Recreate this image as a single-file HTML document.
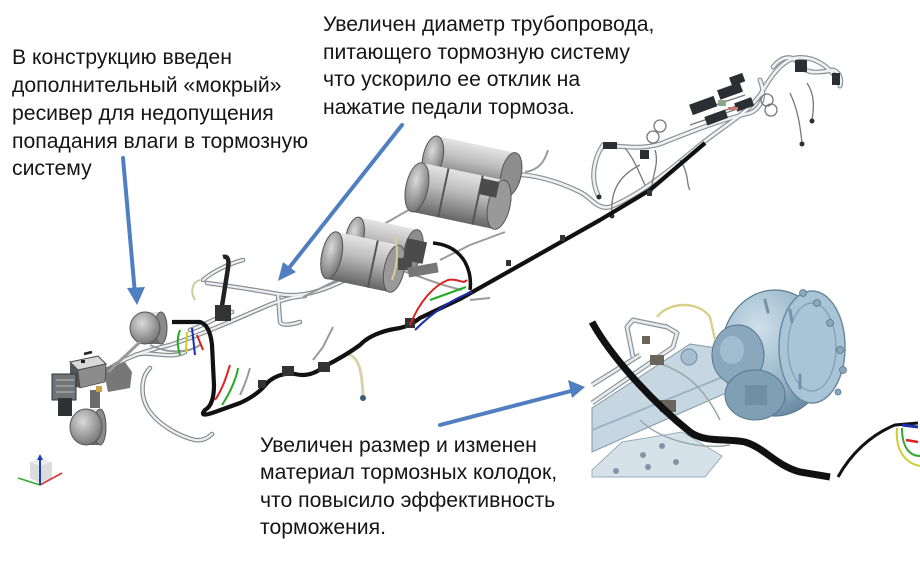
<!DOCTYPE html>
<html><head><meta charset="utf-8">
<style>
html,body{margin:0;padding:0;background:#fff;}
svg{display:block;}
text{font-family:"Liberation Sans","DejaVu Sans",sans-serif;font-size:21.2px;fill:#151515;}
</style></head><body>
<svg width="920" height="577" viewBox="0 0 920 577" xmlns="http://www.w3.org/2000/svg">
<defs>
<linearGradient id="tg" x1="0" y1="0" x2="0" y2="1">
<stop offset="0" stop-color="#e4e4e4"/><stop offset="0.4" stop-color="#bdbdbd"/><stop offset="1" stop-color="#656565"/>
</linearGradient>
<radialGradient id="te" cx="0.4" cy="0.35" r="0.75"><stop offset="0" stop-color="#dadada"/><stop offset="1" stop-color="#6a6a6a"/></radialGradient>
<radialGradient id="dg" cx="0.35" cy="0.3" r="0.8"><stop offset="0" stop-color="#cfe0ea"/><stop offset="0.6" stop-color="#96b4c8"/><stop offset="1" stop-color="#5f8199"/></radialGradient>

<path id="h1" d="M505,175 C530,172 560,182 580,192 C592,198 597,210 610,207 C640,195 670,170 700,145 C725,125 745,115 760,95 C770,78 780,62 795,58 C815,55 830,68 838,80"/>
<path id="h2" d="M603,145 C620,146 640,150 660,144 C690,132 720,120 750,113 C762,108 766,95 760,80"/>
<path id="h3" d="M773,67 C780,58 792,52 800,66 C808,75 822,72 833,70 C840,72 842,80 840,86"/>
<path id="h4" d="M603,145 C594,158 590,178 598,195"/>
<path id="t1" d="M105,372 C120,360 140,352 170,345 C200,335 230,322 262,308 C280,300 292,297 305,296"/>
<path id="t2" d="M150,368 C140,378 140,398 150,412 C160,425 178,436 195,440 C202,441 208,438 212,434"/>
<path id="t3" d="M207,283 C230,286 255,290 278,294 C300,298 320,292 345,280 C360,272 372,262 385,255"/>
<path id="t4" d="M278,294 L280,322 C282,326 290,325 300,322"/>
<path id="t5" d="M203,280 C212,272 228,264 243,260"/>
<path id="t6" d="M190,330 C205,325 215,318 232,312"/>
<path id="t7" d="M135,355 C150,350 170,360 185,352"/>
<path id="i1" d="M592,403 L673,347 L677,333 L667,327 L633,320 L627,327 L633,357"/>
<path id="i2" d="M592,385 L640,355"/>
</defs>

<!-- ===== text ===== -->
<text x="12" y="64">В конструкцию введен</text>
<text x="12" y="92">дополнительный «мокрый»</text>
<text x="12" y="120">ресивер для недопущения</text>
<text x="12" y="148">попадания влаги в тормозную</text>
<text x="12" y="175">систему</text>

<text x="323" y="31">Увеличен диаметр трубопровода,</text>
<text x="323" y="59">питающего тормозную систему</text>
<text x="323" y="86">что ускорило ее отклик на</text>
<text x="323" y="114">нажатие педали тормоза.</text>

<text x="260" y="452">Увеличен размер и изменен</text>
<text x="260" y="479">материал тормозных колодок,</text>
<text x="260" y="507">что повысило эффективность</text>
<text x="260" y="534">торможения.</text>

<!-- ===== right harness (white tubes) ===== -->
<g fill="none" stroke="#8d9296" stroke-width="5" stroke-linecap="round">
<use href="#h1"/><use href="#h2"/><use href="#h3"/><use href="#h4"/>
</g>
<g fill="none" stroke="#eef2f4" stroke-width="2.6" stroke-linecap="round">
<use href="#h1"/><use href="#h2"/><use href="#h3"/><use href="#h4"/>
</g>
<g fill="none" stroke="#777" stroke-width="1.3">
<path d="M790,93 C798,110 800,125 802,143"/>
<path d="M807,83 C815,95 814,108 812,120"/>
<path d="M640,165 C620,175 610,190 612,215"/>
<path d="M680,160 C690,175 686,185 690,190"/>
<path d="M655,150 C660,165 650,180 652,192"/>
<path d="M625,148 C635,160 640,175 645,185"/>
<circle cx="653" cy="137" r="6"/><circle cx="660" cy="126" r="6"/>
<circle cx="767" cy="100" r="6"/><circle cx="771" cy="110" r="6"/>
<path d="M700,110 L745,95 M705,118 L752,100 M690,125 L740,108"/>
</g>
<g fill="#2b2f33">
<rect x="690" y="100" width="26" height="11" transform="rotate(-20 703 105)"/>
<rect x="718" y="86" width="24" height="10" transform="rotate(-20 730 91)"/>
<rect x="705" y="113" width="22" height="9" transform="rotate(-20 716 117)"/>
<rect x="735" y="100" width="18" height="9" transform="rotate(-20 744 104)"/>
<rect x="730" y="75" width="14" height="9" transform="rotate(-20 737 79)"/>
<rect x="795" y="60" width="12" height="12"/>
<rect x="832" y="73" width="8" height="12"/>
<rect x="603" y="142" width="14" height="7"/>
<rect x="640" y="150" width="9" height="9"/>
<circle cx="599" cy="197" r="2.5"/><circle cx="612" cy="216" r="2.5"/><circle cx="802" cy="144" r="2.5"/><circle cx="812" cy="121" r="2.5"/>
</g>
<g fill="#8aa88a"><rect x="718" y="100" width="8" height="6"/></g>
<g fill="#c77"><rect x="728" y="107" width="10" height="3"/></g>

<!-- ===== gray tubes middle / left ===== -->
<g fill="none" stroke="#85898c" stroke-width="4.6" stroke-linecap="round">
<use href="#t1"/><use href="#t2"/><use href="#t3"/><use href="#t4"/><use href="#t5"/><use href="#t6"/><use href="#t7"/>
</g>
<g fill="none" stroke="#eceff1" stroke-width="2.3" stroke-linecap="round">
<use href="#t1"/><use href="#t2"/><use href="#t3"/><use href="#t4"/><use href="#t5"/><use href="#t6"/><use href="#t7"/>
</g>
<g fill="none" stroke="#9a9a9a" stroke-width="2">
<path d="M377,228 L447,188"/>
<path d="M303,297 L383,257"/>
<path d="M440,260 L470,245 L505,232"/>
<path d="M525,172 C540,170 545,160 548,150"/>
<path d="M313,360 L323,347 L333,327"/>
<path d="M400,270 C430,280 440,285 462,290"/>
<path d="M470,300 L490,298"/>
<path d="M240,395 C245,385 248,375 250,368"/>
<path d="M150,345 C170,355 190,352 200,345"/>
</g>
<path d="M347,353 C357,358 362,364 363,397" fill="none" stroke="#d9d4b0" stroke-width="3"/>
<circle cx="363" cy="398" r="3" fill="#3a5a7a"/>

<!-- ===== black hose ===== -->
<path d="M172,322 L200,322 Q210,325 212,345 L214,385 Q214,405 205,410 Q198,418 215,412 L240,403 Q258,395 268,382 Q280,372 295,374 Q310,378 325,366 Q345,356 360,345 Q372,332 400,328 Q410,326 420,318 L460,299 L600,220 L650,190 L705,143" fill="none" stroke="#111" stroke-width="4.2" stroke-linejoin="round"/>
<path d="M223,257 Q230,255 228,268 L222,306" fill="none" stroke="#222" stroke-width="4.5"/>
<path d="M433,243 Q455,245 465,262 Q472,275 470,290" fill="none" stroke="#111" stroke-width="3.5"/>
<g fill="#333">
<rect x="318" y="362" width="12" height="10"/><rect x="282" y="366" width="12" height="10"/>
<rect x="258" y="380" width="8" height="8"/><rect x="405" y="318" width="10" height="10"/>
<rect x="506" y="260" width="5" height="6"/><rect x="560" y="235" width="5" height="6"/><rect x="647" y="190" width="5" height="6"/>
<rect x="215" y="305" width="16" height="16"/>
</g>

<!-- colored wires -->
<g fill="none" stroke-width="2">
<path d="M410,325 C420,300 435,285 448,280 C460,278 462,285 467,280" stroke="#d22"/>
<path d="M415,330 C430,315 450,300 472,292" stroke="#1a2fb0"/>
<path d="M430,300 L466,287" stroke="#2a2"/>
<path d="M215,400 C225,385 228,370 230,365" stroke="#d22"/>
<path d="M222,405 C232,390 237,375 238,368" stroke="#2a2"/>
<path d="M192,328 L195,355" stroke="#1a2fb0"/>
<path d="M187,332 L186,352" stroke="#cc2"/>
<path d="M180,330 C176,340 178,348 180,355" stroke="#2a2"/>
<path d="M197,335 L203,350" stroke="#c22"/>
<path d="M200,280 C192,282 190,292 195,300" stroke="#cc9"/>
<path d="M470,210 L500,213 M500,177 L510,200 L497,210" stroke="#2a3fbf" stroke-width="2.6"/>
<path d="M470,215 L480,205" stroke="#3b3" stroke-width="2.6"/>
</g>

<!-- ===== tanks ===== -->
<g transform="translate(472,166) rotate(12)">
<rect x="-40" y="-22" width="80" height="44" fill="url(#tg)"/>
<ellipse cx="40" cy="0" rx="10" ry="22" fill="#8d8d8d" stroke="#555"/>
<ellipse cx="-40" cy="0" rx="10" ry="22" fill="url(#te)" stroke="#555"/>
</g>
<g transform="translate(458,196) rotate(12)">
<rect x="-42" y="-25" width="84" height="50" fill="url(#tg)"/>
<path d="M-15,-25 L-15,25 M20,-25 L20,25" stroke="#555" stroke-width="2"/>
<ellipse cx="42" cy="0" rx="11" ry="25" fill="#999" stroke="#555"/>
<ellipse cx="-42" cy="0" rx="11" ry="25" fill="url(#te)" stroke="#555"/>
</g>
<g transform="translate(384,244) rotate(12)">
<rect x="-30" y="-21" width="60" height="42" fill="url(#tg)"/>
<ellipse cx="30" cy="0" rx="9" ry="21" fill="#8d8d8d" stroke="#555"/>
<ellipse cx="-30" cy="0" rx="9" ry="21" fill="url(#te)" stroke="#555"/>
</g>
<g transform="translate(363,262) rotate(12)">
<rect x="-32" y="-24" width="64" height="48" fill="url(#tg)"/>
<path d="M10,-24 L10,24" stroke="#555" stroke-width="2"/>
<ellipse cx="32" cy="0" rx="10" ry="24" fill="#9a9a9a" stroke="#555"/>
<ellipse cx="-32" cy="0" rx="10" ry="24" fill="url(#te)" stroke="#555"/>
</g>
<path d="M395,235 C398,250 398,265 392,280" fill="none" stroke="#d4cf9a" stroke-width="2"/>
<g fill="#4b4b4b">
<rect x="405" y="240" width="20" height="22" transform="rotate(12 415 251)"/>
<rect x="398" y="258" width="14" height="12"/>
<rect x="480" y="180" width="18" height="16" transform="rotate(12 489 188)"/>
</g>
<g fill="#777"><rect x="408" y="265" width="30" height="10" transform="rotate(-10 423 270)"/></g>

<!-- ===== left cluster ===== -->
<g transform="translate(147,328)">
<rect x="-2" y="-16" width="16" height="32" fill="url(#tg)"/>
<ellipse cx="14" cy="0" rx="6" ry="16" fill="#8a8a8a" stroke="#555"/>
<ellipse cx="-2" cy="0" rx="15" ry="16" fill="url(#te)" stroke="#555"/>
</g>
<polygon points="103,368 125,362 132,372 130,388 108,392" fill="#777"/>
<polygon points="70,362 98,356 106,364 78,370" fill="#d8d8d8" stroke="#444"/>
<polygon points="70,362 78,370 80,388 70,385" fill="#555"/>
<polygon points="78,370 106,364 105,382 80,388" fill="#8c8c8c" stroke="#444" stroke-width="0.7"/>
<rect x="81" y="360" width="4" height="3" fill="#222"/>
<rect x="52" y="374" width="24" height="26" fill="#6f7479" stroke="#333"/>
<rect x="58" y="398" width="14" height="18" fill="#2f3235"/>
<path d="M56,380 L74,380 M56,386 L74,386 M56,392 L74,392" stroke="#bbb" stroke-width="1"/>
<path d="M84,354 L92,352" stroke="#222" stroke-width="2.5"/>
<g transform="translate(86,427)">
<rect x="0" y="-18" width="14" height="36" fill="url(#tg)"/>
<ellipse cx="14" cy="0" rx="6" ry="18" fill="#8a8a8a" stroke="#555"/>
<ellipse cx="0" cy="0" rx="16" ry="18" fill="url(#te)" stroke="#555"/>
</g>
<rect x="90" y="390" width="10" height="18" fill="#6a6d6a"/>
<rect x="96" y="386" width="6" height="6" fill="#c9a34a"/>
<path d="M108,372 L140,342" stroke="#999" stroke-width="3"/>

<!-- ===== axis icon ===== -->
<polygon points="30,462 42,458 52,462 52,478 40,483 30,478" fill="#dcdcdc"/>
<polygon points="30,462 42,458 52,462 40,466" fill="#eee"/>
<path d="M40,485 L18,478" stroke="#3a3" stroke-width="1.6"/>
<path d="M40,485 L62,473" stroke="#d33" stroke-width="1.6"/>
<path d="M40,485 L40,458" stroke="#1b3fbf" stroke-width="2"/>
<polygon points="37,460 43,460 40,454" fill="#1b3fbf"/>

<!-- ===== inset ===== -->
<g>
<polygon points="592,408 690,344 730,350 742,386 592,452" fill="#c6d7e2" stroke="#7d98ab" stroke-width="1"/>
<path d="M592,430 L740,370" stroke="#9bb4c5" stroke-width="2"/>
<circle cx="689" cy="357" r="8" fill="#a6bfd0" stroke="#6f8ba0"/>
<polygon points="592,470 622,442 682,432 722,456 705,477 592,477" fill="#d6e2ea" stroke="#98adbc" stroke-width="1"/>
<g fill="#7f96a6"><circle cx="643" cy="455" r="3"/><circle cx="648" cy="467" r="3"/><circle cx="616" cy="471" r="3"/><circle cx="662" cy="446" r="3"/><circle cx="676" cy="462" r="3"/></g>
<!-- drum -->
<ellipse cx="775" cy="353" rx="54" ry="63" fill="url(#dg)" stroke="#5b7b92" stroke-width="1.2"/>
<ellipse cx="812" cy="347" rx="33" ry="56" fill="#a9c4d6" stroke="#6a8aa1" stroke-width="1.5"/>
<ellipse cx="812" cy="347" rx="24" ry="44" fill="none" stroke="#7e9db2" stroke-width="1.2"/>
<g stroke="#7393a9" stroke-width="3" stroke-linecap="round">
<path d="M790,310 L792,322"/><path d="M800,375 L800,388"/><path d="M765,300 L768,312"/><path d="M784,395 L786,405"/>
</g>
<g fill="#8aa7ba" stroke="#557489" stroke-width="0.8">
<circle cx="803" cy="293" r="3.5"/><circle cx="817" cy="303" r="3.5"/><circle cx="830" cy="323" r="3.5"/><circle cx="840" cy="350" r="3.5"/><circle cx="843" cy="370" r="3.5"/><circle cx="838" cy="392" r="3"/>
</g>
<ellipse cx="738" cy="355" rx="26" ry="30" fill="#89a8bd" stroke="#58778d"/>
<ellipse cx="755" cy="395" rx="30" ry="25" fill="#7f9fb4" stroke="#58778d"/>
<ellipse cx="732" cy="350" rx="12" ry="14" fill="#a2bdd0"/>
<rect x="745" y="385" width="22" height="20" fill="#6f8fa5"/>
<!-- tubes -->
<g fill="none" stroke="#8d9498" stroke-width="5" stroke-linejoin="round"><use href="#i1"/><use href="#i2"/></g>
<g fill="none" stroke="#e6ecef" stroke-width="2.6" stroke-linejoin="round"><use href="#i1"/><use href="#i2"/></g>
<path d="M657,317 C668,302 698,300 710,317 L715,340" fill="none" stroke="#d9d08a" stroke-width="2.4"/>
<path d="M650,360 C680,370 700,380 720,420 M640,420 C660,440 700,450 730,445" fill="none" stroke="#9aa" stroke-width="1.5"/>
<g fill="#6a655a"><rect x="650" y="355" width="14" height="10"/><rect x="660" y="400" width="16" height="12"/><rect x="642" y="336" width="8" height="8"/></g>
<path d="M592,322 C610,355 650,400 690,432 C705,443 725,438 745,442 C765,448 775,465 800,472 L830,477" fill="none" stroke="#111" stroke-width="7"/>
<path d="M838,477 C850,455 870,435 895,425 L918,423" fill="none" stroke="#111" stroke-width="3"/>
<path d="M897,428 C895,450 905,463 920,466" fill="none" stroke="#cc3" stroke-width="2"/>
<path d="M902,428 C902,448 910,456 920,456" fill="none" stroke="#3a3" stroke-width="2"/>
<path d="M906,440 L918,442" stroke="#d22" stroke-width="2.5"/>
<path d="M902,425 L918,427" stroke="#1a2fb0" stroke-width="3"/>
</g>

<!-- ===== arrows ===== -->
<g stroke="#4f7fc0" stroke-width="4" fill="#4f7fc0" stroke-linecap="round">
<line x1="123" y1="158" x2="135" y2="294"/>
<line x1="402" y1="125" x2="285" y2="273"/>
<line x1="440" y1="425" x2="575" y2="390"/>
</g>
<g fill="#4f7fc0">
<polygon points="137,305 127,288 145,287"/>
<polygon points="278,281 283,262 296,272"/>
<polygon points="585,387 568,380 572,398"/>
</g>
</svg>
</body></html>
